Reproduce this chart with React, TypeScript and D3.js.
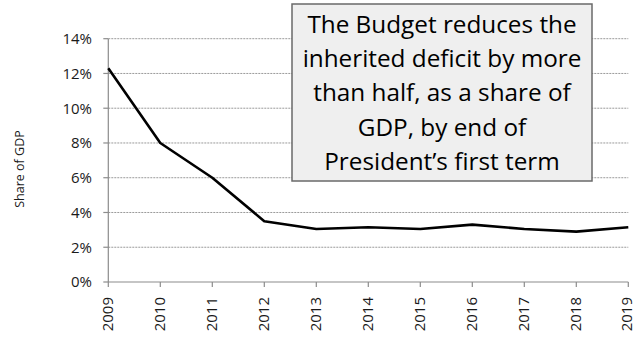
import React from "react";
import * as d3 from "d3";

const years = [2009, 2010, 2011, 2012, 2013, 2014, 2015, 2016, 2017, 2018, 2019];
const deficitShare = [12.3, 8.0, 6.0, 3.5, 3.05, 3.15, 3.05, 3.3, 3.05, 2.9, 3.15];
const yTicks = [0, 2, 4, 6, 8, 10, 12, 14];
const yTitle = "Share of GDP";
const calloutLines = [
  "The Budget reduces the",
  "inherited deficit by more",
  "than half, as a share of",
  "GDP, by end of",
  "President\u2019s first term",
];

const W = 636;
const H = 343;
const FONT = "'Open Sans', Lato, sans-serif";

export default function App() {
  const x = d3.scaleLinear().domain([2009, 2019]).range([108.3, 628.3]);
  const y = d3.scaleLinear().domain([0, 14]).range([282, 38.7]);
  const line = d3
    .line<number>()
    .x((_, i) => x(years[i]))
    .y((d) => y(d));

  return (
    <svg
      width={W}
      height={H}
      style={{ position: "absolute", left: 0, top: 0, background: "#fff" }}
      fontFamily={FONT}
    >
      {/* gridlines */}
      {yTicks.filter((t) => t > 0).map((t) => (
        <line
          key={"g" + t}
          x1={x(2009)}
          x2={x(2019)}
          y1={y(t)}
          y2={y(t)}
          stroke="#9a9a9a"
          strokeWidth={1}
          strokeDasharray="2,1"
        />
      ))}
      {/* y axis */}
      <line x1={x(2009)} x2={x(2009)} y1={y(14)} y2={y(0)} stroke="#8c8c8c" strokeWidth={1.2} />
      {yTicks.map((t) => (
        <g key={"y" + t}>
          <line x1={x(2009) - 5} x2={x(2009)} y1={y(t)} y2={y(t)} stroke="#8c8c8c" strokeWidth={1.2} />
          <text
            x={92}
            y={y(t)}
            dy="0.36em"
            textAnchor="end"
            fontSize={15}
            fill="#1a1a1a"
          >
            {t + "%"}
          </text>
        </g>
      ))}
      {/* x axis */}
      <line x1={x(2009)} x2={x(2019)} y1={y(0)} y2={y(0)} stroke="#8c8c8c" strokeWidth={1.2} />
      {years.map((yr) => (
        <g key={"x" + yr}>
          <line x1={x(yr)} x2={x(yr)} y1={y(0)} y2={y(0) + 5} stroke="#8c8c8c" strokeWidth={1.2} />
          <text
            transform={`translate(${Math.min(x(yr), 627)},${297}) rotate(-90)`}
            dy="0.3em"
            textAnchor="end"
            fontSize={15}
            fill="#1a1a1a"
          >
            {yr}
          </text>
        </g>
      ))}
      {/* y title */}
      <text
        transform={`translate(19,169) rotate(-90)`}
        dy="0.36em"
        textAnchor="middle"
        fontSize={12.5}
        fill="#1a1a1a"
      >
        {yTitle}
      </text>
      {/* data line */}
      <path
        d={line(deficitShare) || ""}
        fill="none"
        stroke="#000"
        strokeWidth={2.6}
        strokeLinejoin="round"
      />
      {/* callout box */}
      <rect x={292} y={4} width={300} height={177} fill="#efefef" stroke="#6a6a6a" strokeWidth={1.5} />
      {calloutLines.map((l, i) => (
        <text
          key={"c" + i}
          x={442}
          y={33 + i * 34.2}
          textAnchor="middle"
          fontSize={24.3}
          fill="#000"
        >
          {l}
        </text>
      ))}
    </svg>
  );
}
